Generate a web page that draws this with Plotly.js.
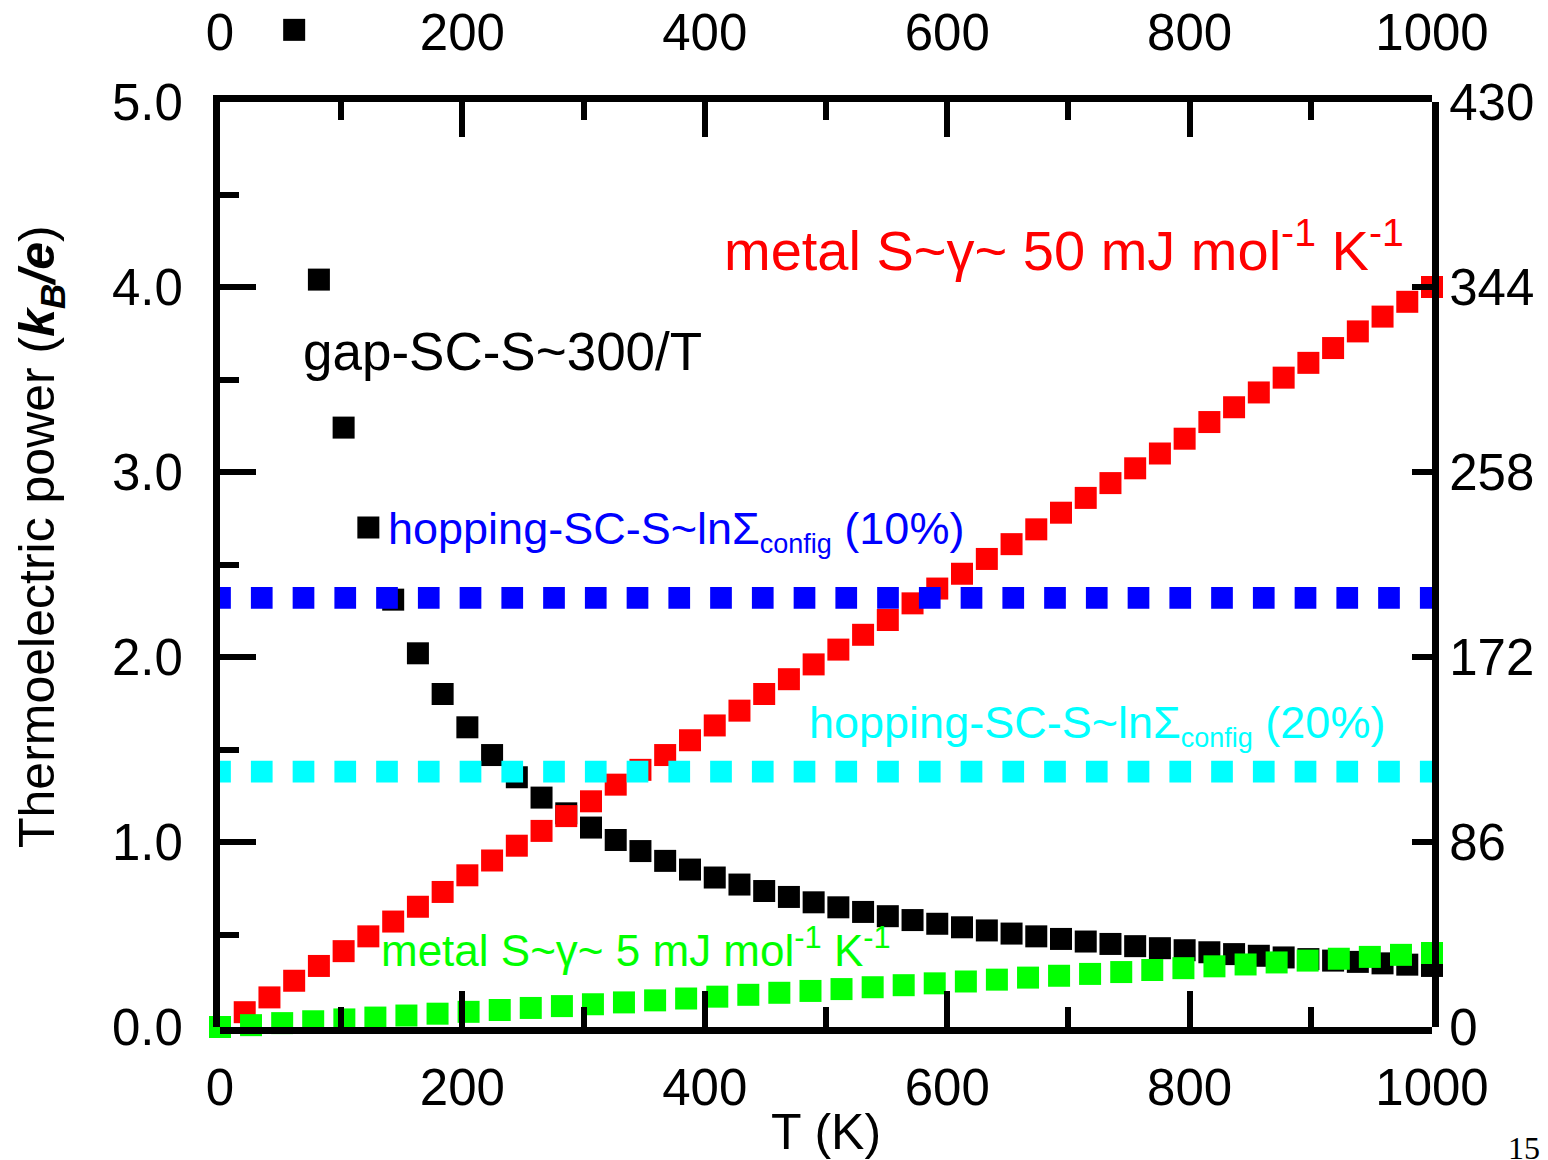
<!DOCTYPE html>
<html>
<head>
<meta charset="utf-8">
<script src="https://cdn.plot.ly/plotly-3.0.1.min.js"></script>
<style>
  html, body { margin: 0; padding: 0; background: #ffffff; }
  #chart { width: 1548px; height: 1160px; }
</style>
</head>
<body>
<div id="chart"></div>
<script>
// ---- data ----
// metal, gamma ~ 50 mJ mol^-1 K^-1 (red)
const T_metal50 = [0, 20.4, 40.8, 61.2, 81.6, 102.0, 122.4, 142.9, 163.3, 183.7, 204.1, 224.5, 244.9, 265.3, 285.7, 306.1, 326.5, 346.9, 367.3, 387.8, 408.2, 428.6, 449.0, 469.4, 489.8, 510.2, 530.6, 551.0, 571.4, 591.8, 612.2, 632.7, 653.1, 673.5, 693.9, 714.3, 734.7, 755.1, 775.5, 795.9, 816.3, 836.7, 857.1, 877.6, 898.0, 918.4, 938.8, 959.2, 979.6, 1000];
const S_metal50 = [0, 0.08, 0.16, 0.25, 0.33, 0.41, 0.49, 0.57, 0.65, 0.73, 0.82, 0.90, 0.98, 1.06, 1.14, 1.22, 1.31, 1.39, 1.47, 1.55, 1.63, 1.71, 1.80, 1.88, 1.96, 2.04, 2.12, 2.20, 2.29, 2.37, 2.45, 2.53, 2.61, 2.69, 2.78, 2.86, 2.94, 3.02, 3.10, 3.18, 3.27, 3.35, 3.43, 3.51, 3.59, 3.67, 3.76, 3.84, 3.92, 4.00];

// gap semiconductor, S ~ 300/T (black)
const T_gap = [61.2, 81.6, 102.0, 122.4, 142.9, 163.3, 183.7, 204.1, 224.5, 244.9, 265.3, 285.7, 306.1, 326.5, 346.9, 367.3, 387.8, 408.2, 428.6, 449.0, 469.4, 489.8, 510.2, 530.6, 551.0, 571.4, 591.8, 612.2, 632.7, 653.1, 673.5, 693.9, 714.3, 734.7, 755.1, 775.5, 795.9, 816.3, 836.7, 857.1, 877.6, 898.0, 918.4, 938.8, 959.2, 979.6, 1000];
const S_gap = [5.39, 4.04, 3.24, 2.70, 2.31, 2.02, 1.80, 1.62, 1.47, 1.35, 1.24, 1.155, 1.078, 1.011, 0.951, 0.898, 0.851, 0.808, 0.770, 0.735, 0.703, 0.674, 0.647, 0.622, 0.599, 0.578, 0.558, 0.539, 0.522, 0.505, 0.490, 0.476, 0.462, 0.449, 0.437, 0.426, 0.415, 0.404, 0.394, 0.385, 0.376, 0.367, 0.359, 0.352, 0.344, 0.337, 0.330];

// metal, gamma ~ 5 mJ mol^-1 K^-1 (green)
const T_metal5 = [0, 25.6, 51.3, 76.9, 102.6, 128.2, 153.8, 179.5, 205.1, 230.8, 256.4, 282.1, 307.7, 333.3, 359.0, 384.6, 410.3, 435.9, 461.5, 487.2, 512.8, 538.5, 564.1, 589.7, 615.4, 641.0, 666.7, 692.3, 717.9, 743.6, 769.2, 794.9, 820.5, 846.2, 871.8, 897.4, 923.1, 948.7, 974.4, 1000];
const S_metal5 = [0, 0.010, 0.021, 0.031, 0.041, 0.051, 0.062, 0.072, 0.082, 0.092, 0.103, 0.113, 0.123, 0.133, 0.144, 0.154, 0.164, 0.174, 0.185, 0.195, 0.205, 0.215, 0.226, 0.236, 0.246, 0.256, 0.267, 0.277, 0.287, 0.297, 0.308, 0.318, 0.328, 0.338, 0.349, 0.359, 0.369, 0.379, 0.390, 0.400];

// hopping semiconductor, S ~ ln(Sigma_config) (constant levels)
const T_hop = [0, 1000];
const S_hop10 = [2.32, 2.32];
const S_hop20 = [1.38, 1.38];

// axis ticks
const xTicks = [0, 200, 400, 600, 800, 1000];
const yTicks = [0, 1, 2, 3, 4, 5];
const yTickText = ['0.0', '1.0', '2.0', '3.0', '4.0', '5.0'];
const rightTicks = [0, 86, 172, 258, 344, 430];
const rightTickText = ['0', '86', '172', '258', '344', '430'];

// labels
const yTitle = 'Thermoelectric power (<b><i>k<sub>B</sub>/e</i></b>)';
const xTitle = 'T (K)';
const labelGap = 'gap-SC-S~300/T';
const labelMetal50 = 'metal S~γ~ 50 mJ mol<sup>-1</sup> K<sup>-1</sup>';
const labelHop10 = 'hopping-SC-S~lnΣ<sub><span style="font-size:27px">config</span></sub> (10%)';
const labelHop20 = 'hopping-SC-S~lnΣ<sub><span style="font-size:27px">config</span></sub> (20%)';
const labelMetal5 = 'metal S~γ~ 5 mJ mol<sup>-1</sup> K<sup>-1</sup>';
const pageNumber = '15';

const FONT = 'Liberation Sans, Arial, Helvetica, sans-serif';
const sq = 22;

// geometry: plot region spans 1027 px vertically; the framed 0..5 box uses 925 px of it
const plotH = 1027;
const boxH = 925;
const boxTop = boxH / plotH;
const yExtTop = 5 * plotH / boxH;   // data value at very top of the drawing region

const traces = [
  { x: T_gap, y: S_gap, type: 'scatter', mode: 'markers', cliponaxis: false,
    marker: { symbol: 'square', size: sq, color: '#000000' }, hoverinfo: 'skip' },
  { x: T_metal50, y: S_metal50, type: 'scatter', mode: 'markers', cliponaxis: false,
    marker: { symbol: 'square', size: sq, color: '#ff0000' }, hoverinfo: 'skip' },
  { x: T_hop, y: S_hop10, type: 'scatter', mode: 'lines',
    line: { color: '#0000ff', width: 21.7, dash: '10.85px,20.05px,10.85px,0px' }, hoverinfo: 'skip' },
  { x: T_hop, y: S_hop20, type: 'scatter', mode: 'lines',
    line: { color: '#00ffff', width: 21.7, dash: '10.85px,20.05px,10.85px,0px' }, hoverinfo: 'skip' },
  { x: T_metal5, y: S_metal5, type: 'scatter', mode: 'markers', cliponaxis: false,
    marker: { symbol: 'square', size: sq, color: '#00ff00' }, hoverinfo: 'skip' },
  // empty traces that attach the framing axes
  { x: [], y: [], xaxis: 'x', yaxis: 'y3', type: 'scatter', mode: 'markers', hoverinfo: 'skip' },
  { x: [], y: [], xaxis: 'x', yaxis: 'y4', type: 'scatter', mode: 'markers', hoverinfo: 'skip' },
  { x: [], y: [], xaxis: 'x2', yaxis: 'y3', type: 'scatter', mode: 'markers', hoverinfo: 'skip' }
];

const axisCommon = {
  showline: true, linecolor: '#000000', linewidth: 7,
  ticks: 'inside', tickcolor: '#000000', tickwidth: 6,
  showgrid: false, zeroline: false,
  tickfont: { family: FONT, size: 51, color: '#000000' }
};

const layout = {
  width: 1548, height: 1160,
  margin: { l: 220, r: 116, t: 0, b: 133, pad: 0 },
  paper_bgcolor: '#ffffff', plot_bgcolor: 'rgba(0,0,0,0)',
  showlegend: false,
  font: { family: FONT, color: '#000000' },
  // bottom axis (data axis)
  xaxis: Object.assign({}, axisCommon, {
    domain: [0, 1], anchor: 'y', side: 'bottom',
    range: [0, 1000], tickvals: xTicks, ticklen: 36, ticklabelstandoff: 10,
    minor: { ticks: 'inside', dtick: 100, ticklen: 20, tickwidth: 6, tickcolor: '#000000' },
    title: { text: xTitle, font: { family: FONT, size: 50, color: '#000000' }, standoff: 4 }
  }),
  // data y axis (hidden), same scale as the framed left axis
  yaxis: { domain: [0, 1], anchor: 'x', range: [0, yExtTop], visible: false, showgrid: false, zeroline: false },
  // top axis
  xaxis2: Object.assign({}, axisCommon, {
    domain: [0, 1], anchor: 'y3', side: 'top',
    range: [0, 1000], tickvals: xTicks, ticklen: 35, ticklabelstandoff: 25,
    minor: { ticks: 'inside', dtick: 100, ticklen: 18, tickwidth: 6, tickcolor: '#000000' }
  }),
  // left framed axis, kB/e
  yaxis3: Object.assign({}, axisCommon, {
    domain: [0, boxTop], anchor: 'x', side: 'left',
    range: [0, 5], tickvals: yTicks, ticktext: yTickText, ticklen: 36, ticklabelstandoff: 20,
    minor: { ticks: 'inside', dtick: 0.5, ticklen: 19, tickwidth: 6, tickcolor: '#000000' }
  }),
  // right framed axis, microvolt per kelvin
  yaxis4: Object.assign({}, axisCommon, {
    domain: [0, boxTop], anchor: 'x', side: 'right',
    range: [0, 430], tickvals: rightTicks, ticktext: rightTickText, ticklen: 20
  }),
  annotations: [
    { xref: 'paper', yref: 'paper', x: (40 - 220) / 1212, y: (plotH - 537) / plotH,
      xanchor: 'center', yanchor: 'middle', textangle: -90, showarrow: false,
      text: yTitle, font: { family: FONT, size: 50, color: '#000000' } },
    { xref: 'x', yref: 'y', x: 67, y: 3.65, xanchor: 'left', yanchor: 'middle', showarrow: false,
      text: labelGap, font: { family: FONT, size: 53, color: '#000000' } },
    { xref: 'x', yref: 'y', x: 414, y: 4.22, xanchor: 'left', yanchor: 'middle', showarrow: false,
      text: labelMetal50, font: { family: FONT, size: 56, color: '#ff0000' } },
    { xref: 'x', yref: 'y', x: 137, y: 2.68, xanchor: 'left', yanchor: 'middle', showarrow: false,
      text: labelHop10, font: { family: FONT, size: 45, color: '#0000ff' } },
    { xref: 'x', yref: 'y', x: 484.5, y: 1.63, xanchor: 'left', yanchor: 'middle', showarrow: false,
      text: labelHop20, font: { family: FONT, size: 45, color: '#00ffff' } },
    { xref: 'x', yref: 'y', x: 131.5, y: 0.43, xanchor: 'left', yanchor: 'middle', showarrow: false,
      text: labelMetal5, font: { family: FONT, size: 44, color: '#00ff00' } },
    { xref: 'paper', yref: 'paper', x: (1506 - 220) / 1212, y: (plotH - 1128) / plotH,
      xanchor: 'left', yanchor: 'top', showarrow: false,
      text: pageNumber, font: { family: 'Liberation Serif, Times New Roman, serif', size: 32, color: '#000000' } }
  ]
};

Plotly.newPlot('chart', traces, layout, { displayModeBar: false, staticPlot: true });
</script>
</body>
</html>
